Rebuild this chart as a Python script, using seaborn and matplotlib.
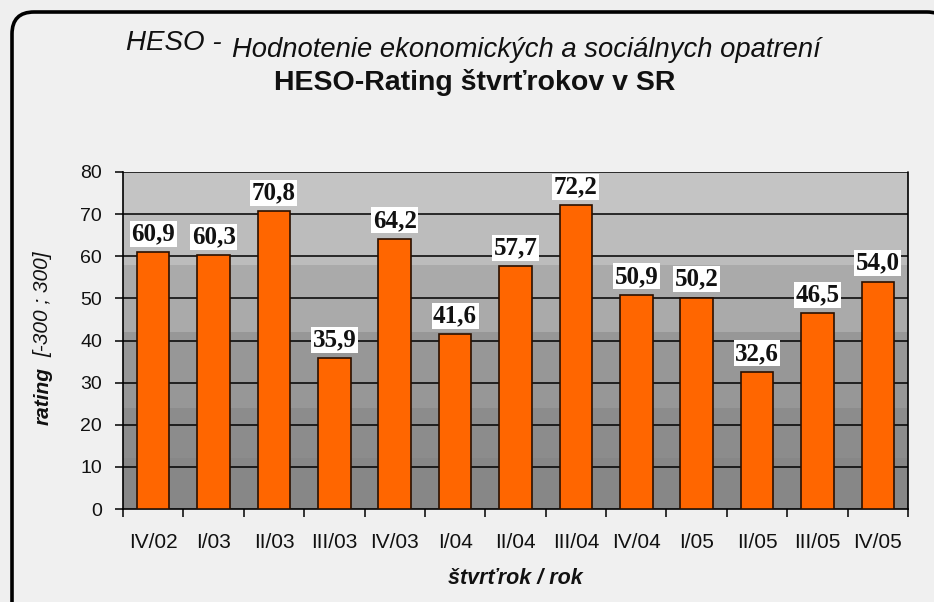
import matplotlib
matplotlib.use("Agg")
import matplotlib.pyplot as plt
import seaborn as sns
import numpy as np
import pandas as pd
from matplotlib.patches import FancyBboxPatch
from matplotlib.transforms import IdentityTransform

categories = ["IV/02", "I/03", "II/03", "III/03", "IV/03", "I/04", "II/04",
              "III/04", "IV/04", "I/05", "II/05", "III/05", "IV/05"]
values = [60.9, 60.3, 70.8, 35.9, 64.2, 41.6, 57.7, 72.2, 50.9, 50.2, 32.6, 46.5, 54.0]
yticks = [0, 10, 20, 30, 40, 50, 60, 70, 80]

df = pd.DataFrame({"quarter": categories, "rating": values})

sns.set_theme(style="white")
plt.rcParams['font.family'] = ['Liberation Sans', 'DejaVu Sans']

W, H = 934, 602
fig = plt.figure(figsize=(W / 100, H / 100), dpi=100)
fig.patch.set_facecolor("#efefef")

# rounded frame (pixel coordinates)
frame = FancyBboxPatch((12, -30), 937, H - 12 + 30,
                       boxstyle="round,pad=0,rounding_size=22",
                       transform=IdentityTransform(), facecolor="#f0f0f0",
                       edgecolor="black", linewidth=2.6, zorder=0)
fig.patches.append(frame)

ax = fig.add_axes([123 / W, 1 - 509 / H, (908 - 123) / W, (509 - 172) / H])
ax.set_zorder(2)
ax.set_facecolor("none")

# stepped gray background bands
bands = [(0, 12, "#878787"), (12, 24, "#8c8c8c"), (24, 42, "#979797"),
         (42, 58, "#aaaaaa"), (58, 70, "#bcbcbc"), (70, 80, "#c4c4c4")]
for lo, hi, c in bands:
    ax.axhspan(lo, hi, color=c, zorder=0, linewidth=0)

sns.barplot(data=df, x="quarter", y="rating", color="#ff6600", saturation=1,
            width=0.54, edgecolor="#2a1000", linewidth=1.2, ax=ax, zorder=3)

ax.set_ylim(0, 80)
ax.set_xlim(-0.5, len(categories) - 0.5)

ax.set_yticks(yticks)
for gy in yticks[1:]:
    ax.axhline(gy, color="black", linewidth=1.1, zorder=1)

for s in ["top", "right"]:
    ax.spines[s].set_visible(False)
for s in ["left", "bottom"]:
    ax.spines[s].set_color("black")
    ax.spines[s].set_linewidth(1.2)
ax.plot([1, 1], [0, 1], transform=ax.transAxes, color="black", lw=1.2, zorder=4, clip_on=False)

ax.tick_params(axis="y", direction="out", length=6, width=1.1, color="black",
               labelsize=14, pad=9, left=True)
ax.set_xticks(range(len(categories)))
ax.set_xticklabels(categories, fontsize=15)
ax.tick_params(axis="x", which="major", length=0, pad=17)
ax.set_xticks(np.arange(-0.5, len(categories), 1), minor=True)
ax.tick_params(axis="x", which="minor", direction="out", length=6, width=1.1,
               color="black", bottom=True)
for lab in ax.get_yticklabels() + ax.get_xticklabels():
    lab.set_color("#111111")

ax.set_xlabel("štvrťrok / rok", fontsize=15.5, fontweight="bold", style="italic",
              labelpad=12, color="#111111")
ax.set_ylabel("")

# y label: bold italic "rating" followed by italic range
fig.text(43 / W, 1 - 425 / H, "rating", rotation=90, ha="center", va="bottom",
         fontsize=15, style="italic", fontweight="bold", color="#111111")
fig.text(43 / W, 1 - 357 / H, "[-300 ; 300]", rotation=90, ha="center", va="bottom",
         fontsize=15, style="italic", color="#111111")

for i, v in enumerate(values):
    ax.text(i, v + 1.6, f"{v:.1f}".replace(".", ","), ha="center", va="bottom",
            fontsize=18, fontweight="bold", family=["Liberation Serif", "DejaVu Serif"],
            color="#111111", zorder=5,
            bbox=dict(boxstyle="square,pad=0.06", facecolor="white", edgecolor="none"))

fig.text(222 / W, 1 - 43 / H, "HESO -", ha="right", va="center",
         fontsize=20, style="italic", color="#111111")
fig.text(232 / W, 1 - 50 / H, "Hodnotenie ekonomických a sociálnych opatrení",
         ha="left", va="center", fontsize=19.7, style="italic", color="#111111")
fig.text(475 / W, 1 - 83 / H, "HESO-Rating štvrťrokov v SR", ha="center",
         va="center", fontsize=20.5, fontweight="bold", color="#111111")

fig.savefig("out.png", dpi=100, facecolor=fig.get_facecolor())
